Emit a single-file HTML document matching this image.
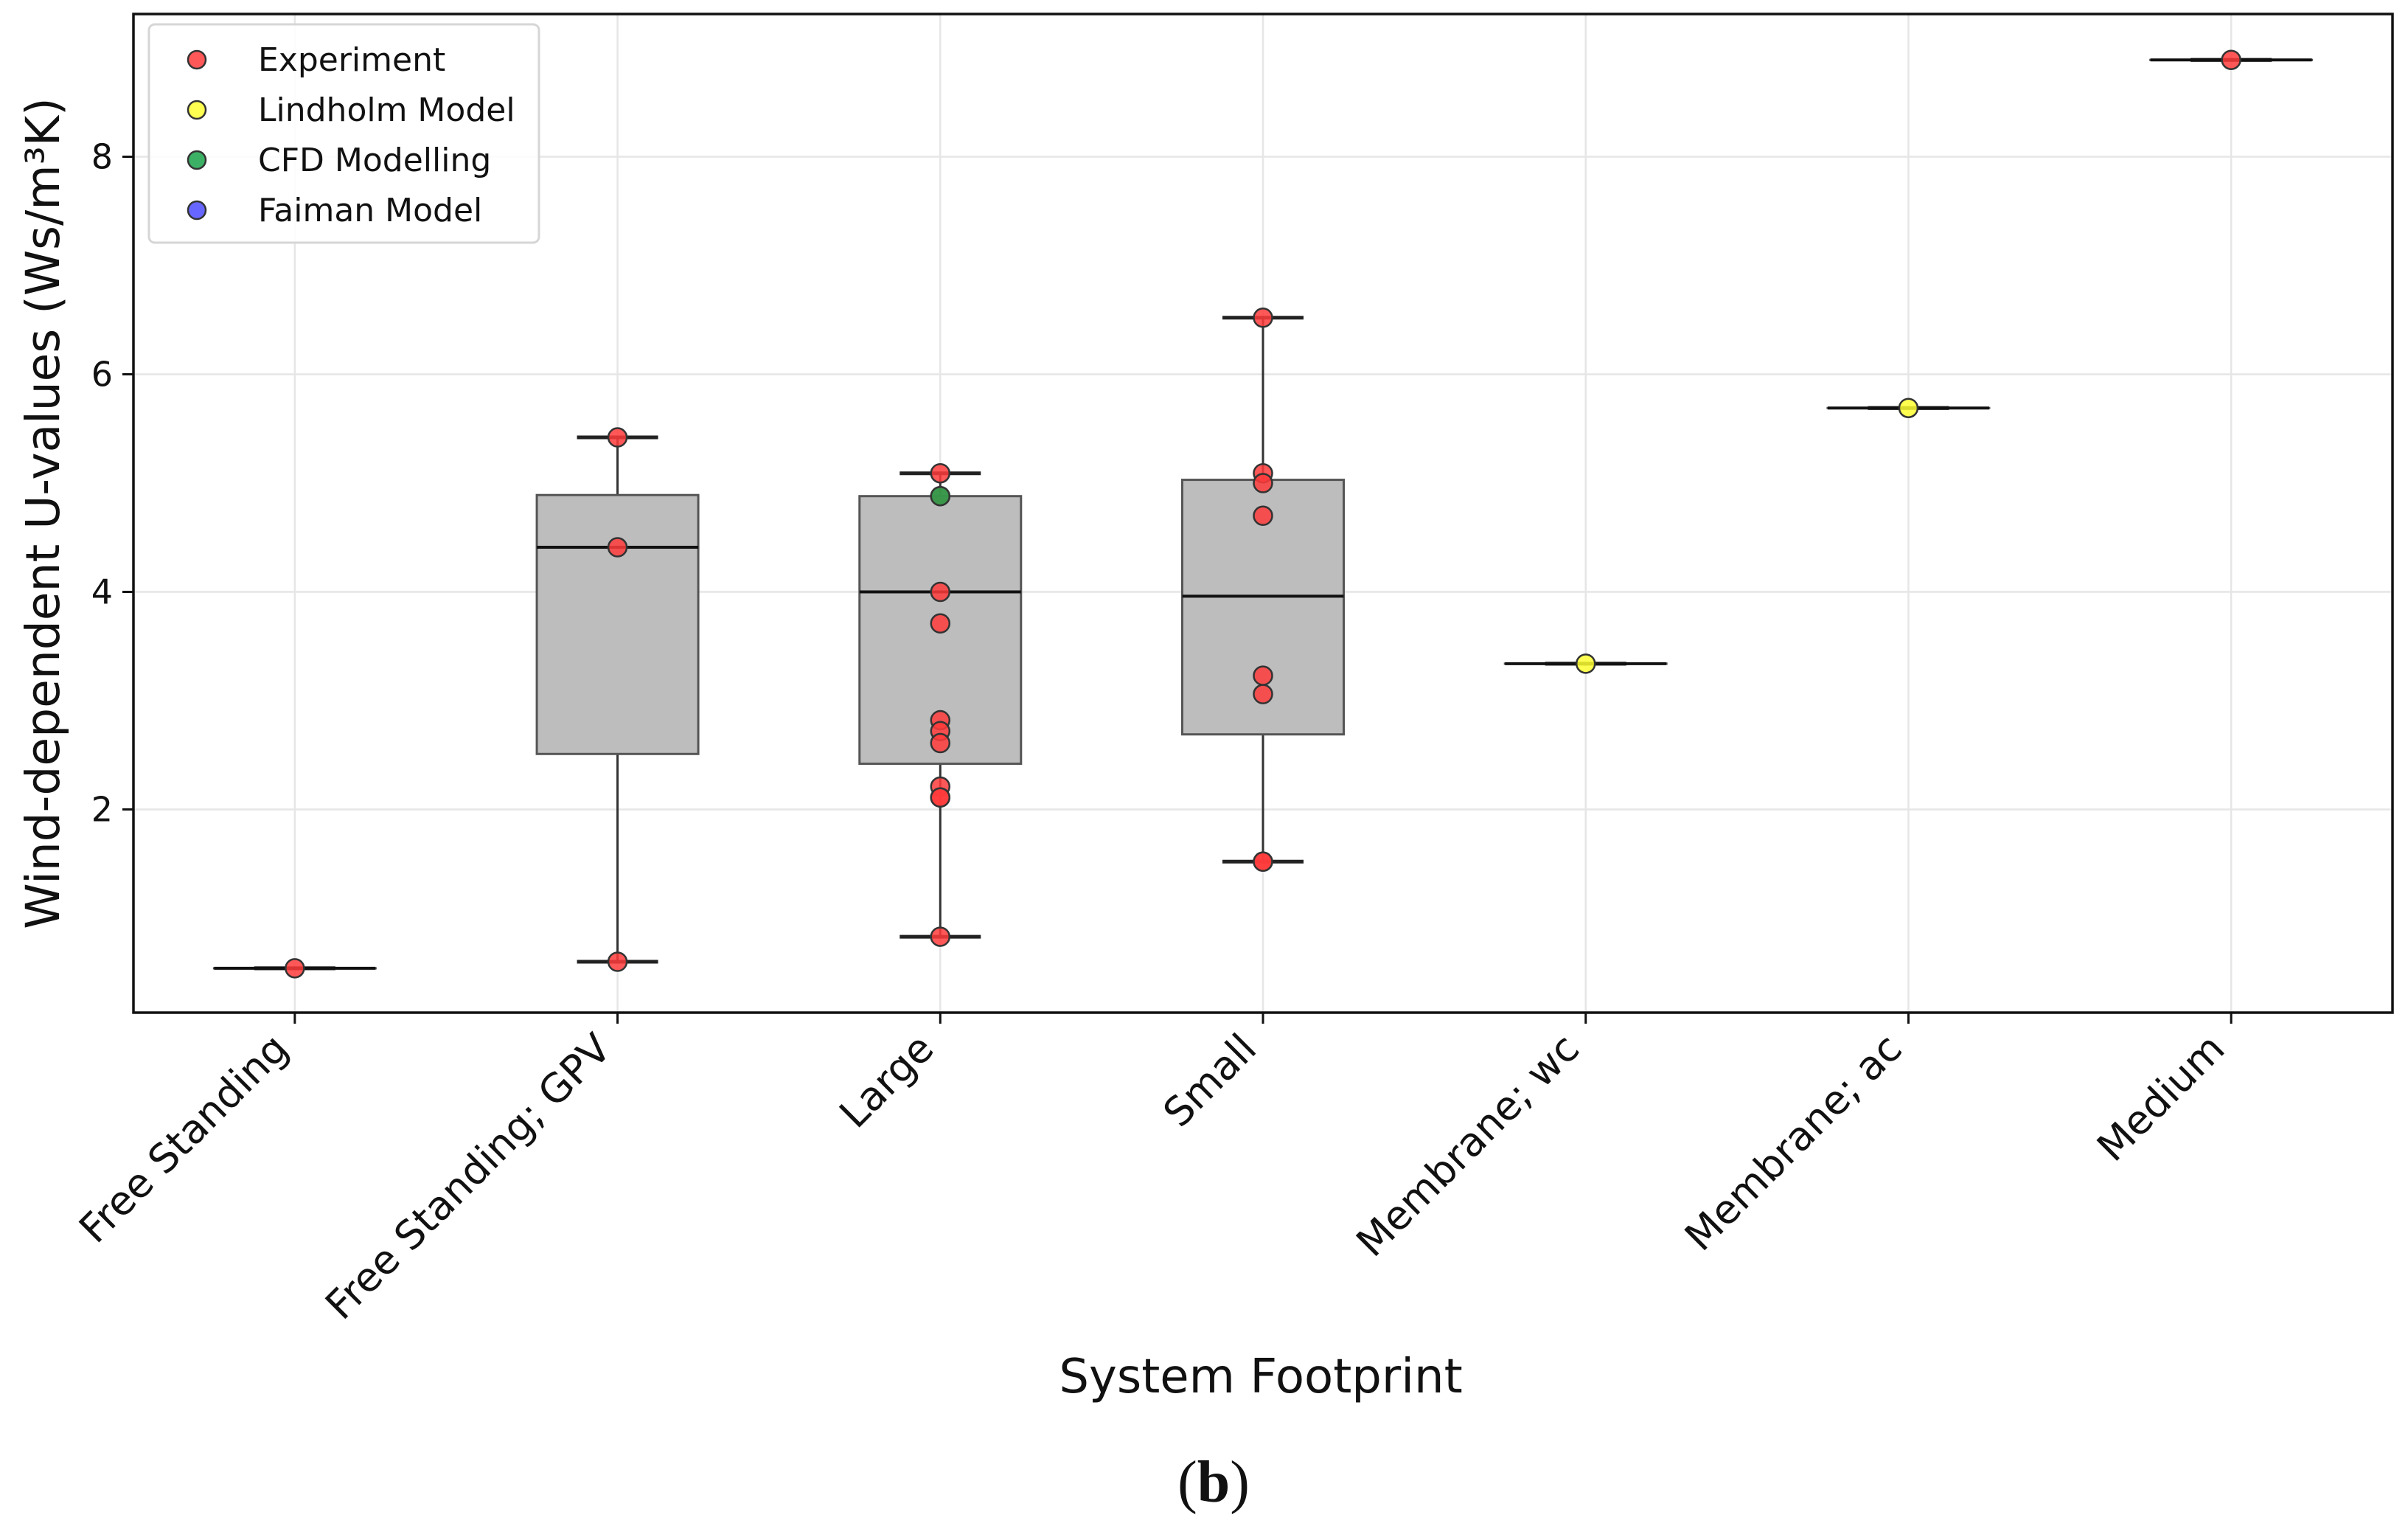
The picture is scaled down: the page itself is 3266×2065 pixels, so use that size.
<!DOCTYPE html>
<html><head><meta charset="utf-8"><style>
html,body{margin:0;padding:0;background:#fff}
svg{display:block;font-family:"DejaVu Sans","Liberation Sans",sans-serif}
</style></head><body>
<svg id="chart" width="3266" height="2065" viewBox="0 0 3266 2065" xmlns="http://www.w3.org/2000/svg">
<g id="grid"></g>
<g id="boxes"></g>
<g id="points"></g>
<rect x="181" y="19" width="3064" height="1354" fill="none" stroke="#111" stroke-width="3.5"/>
<g id="axes"></g>
<text transform="translate(80,696) rotate(-90)" text-anchor="middle" font-size="63" fill="#111">Wind-dependent U-values (Ws/m³K)</text>
<text x="1710" y="1888" text-anchor="middle" font-size="64" fill="#111">System Footprint</text>
<text x="1646" y="2036" text-anchor="middle" font-size="80" font-family="Liberation Serif, serif" fill="#111">(<tspan font-weight="bold">b</tspan>)</text>
<g>
<rect x="202" y="33" width="529" height="296" rx="8" fill="#fff" fill-opacity="0.85" stroke="#d6d6d6" stroke-width="3"/>
<g id="legend-items"></g>
</g>
</svg>
<script>
const categories = ["Free Standing","Free Standing; GPV","Large","Small","Membrane; wc","Membrane; ac","Medium"];
const boxQ1 = [0.54, 2.51, 2.42, 2.69, 3.34, 5.69, 8.89];
const boxMedian = [0.54, 4.41, 4.0, 3.96, 3.34, 5.69, 8.89];
const boxQ3 = [0.54, 4.89, 4.88, 5.03, 3.34, 5.69, 8.89];
const whiskerLow = [0.54, 0.6, 0.83, 1.52, 3.34, 5.69, 8.89];
const whiskerHigh = [0.54, 5.42, 5.09, 6.52, 3.34, 5.69, 8.89];
const freeStandingPts = [0.54];
const gpvPts = [5.42, 4.41, 0.6];
const largePts = [5.09, 4.88, 4.0, 3.71, 2.82, 2.72, 2.61, 2.21, 2.11, 2.11, 0.83];
const smallPts = [6.52, 5.09, 5.0, 4.70, 3.23, 3.06, 1.52, 1.52];
const mediumPts = [8.89];
const lindholmCategory = [4, 5];
const lindholmPts = [3.34, 5.69];
const cfdCategory = [2];
const cfdPts = [4.88];
const yTicks = [2, 4, 6, 8];
const legendLabels = ["Experiment","Lindholm Model","CFD Modelling","Faiman Model"];
const legendColors = ["#ff3b3b","#ffff33","#1aa34a","#4c4cff"];

const NS="http://www.w3.org/2000/svg";
const L=181,R=3245,T=19,B=1373;
const xs=i=>L+(i+0.5)*(R-L)/categories.length;
const ys=v=>1392.5-147.5*v;
function mk(tag,attrs,parent){const e=document.createElementNS(NS,tag);for(const k in attrs)e.setAttribute(k,attrs[k]);parent.appendChild(e);return e;}
const grid=document.getElementById('grid'),boxes=document.getElementById('boxes'),pts=document.getElementById('points'),axes=document.getElementById('axes');

categories.forEach((c,i)=>{
  const x=xs(i);
  const g=mk('line',{x1:x,x2:x,y1:T,y2:B,stroke:'#e6e6e6','stroke-width':2.5},grid);
  
  
  const t=mk('line',{x1:x,x2:x,y1:B,y2:B+15,stroke:'#111','stroke-width':3},axes);
  
  
  const lb=mk('text',{transform:`translate(${x-6},${B+52}) rotate(-45)`,'text-anchor':'end','font-size':54,fill:'#111'},axes);
  lb.textContent=c;
  
  
  const hw=109.5, cw=55;
  const bg=mk('g',{},boxes);
  
  
  mk('line',{x1:x,x2:x,y1:ys(whiskerHigh[i]),y2:ys(boxQ3[i]),stroke:'#333','stroke-width':3},bg);
  mk('line',{x1:x,x2:x,y1:ys(boxQ1[i]),y2:ys(whiskerLow[i]),stroke:'#333','stroke-width':3},bg);
  mk('rect',{x:x-hw,y:ys(boxQ3[i]),width:2*hw,height:Math.max(0.1,ys(boxQ1[i])-ys(boxQ3[i])),fill:'#bdbdbd',stroke:'#555','stroke-width':3},bg);
  mk('line',{x1:x-cw,x2:x+cw,y1:ys(whiskerHigh[i]),y2:ys(whiskerHigh[i]),stroke:'#222','stroke-width':5},bg);
  mk('line',{x1:x-cw,x2:x+cw,y1:ys(whiskerLow[i]),y2:ys(whiskerLow[i]),stroke:'#222','stroke-width':5},bg);
  mk('line',{x1:x-hw,x2:x+hw,y1:ys(boxMedian[i]),y2:ys(boxMedian[i]),stroke:'#111','stroke-width':4},bg);
});
yTicks.forEach(v=>{
  const y=ys(v);
  const g=mk('line',{x1:L,x2:R,y1:y,y2:y,stroke:'#e6e6e6','stroke-width':2.5},grid);
  
  
  const t=mk('line',{x1:L-15,x2:L,y1:y,y2:y,stroke:'#111','stroke-width':3},axes);
  
  
  const lb=mk('text',{x:L-28,y:y+16,'text-anchor':'end','font-size':46,fill:'#111'},axes);
  lb.textContent=v;
  
  
});
function dot(ci,v,color,name){
  const c=mk('circle',{cx:xs(ci),cy:ys(v),r:12.5,fill:color,'fill-opacity':0.85,stroke:'#333','stroke-width':2.5},pts);
  
  
}
[[0,freeStandingPts],[1,gpvPts],[2,largePts],[3,smallPts],[6,mediumPts]].forEach(([ci,arr])=>arr.forEach(v=>dot(ci,v,'#ff3b3b','point-experiment')));
lindholmPts.forEach((v,k)=>dot(lindholmCategory[k],v,'#ffff33','point-lindholm-model'));
cfdPts.forEach((v,k)=>dot(cfdCategory[k],v,'#1aa34a','point-cfd-modelling'));
const li=document.getElementById('legend-items');
legendLabels.forEach((lab,k)=>{
  const y=81+k*68;
  const c=mk('circle',{cx:267,cy:y,r:12,fill:legendColors[k],'fill-opacity':0.85,stroke:'#333','stroke-width':2.5},li);
  
  
  const t=mk('text',{x:350,y:y+15,'font-size':44,fill:'#111'},li);
  t.textContent=lab;
  
  
});
</script>
</body></html>
